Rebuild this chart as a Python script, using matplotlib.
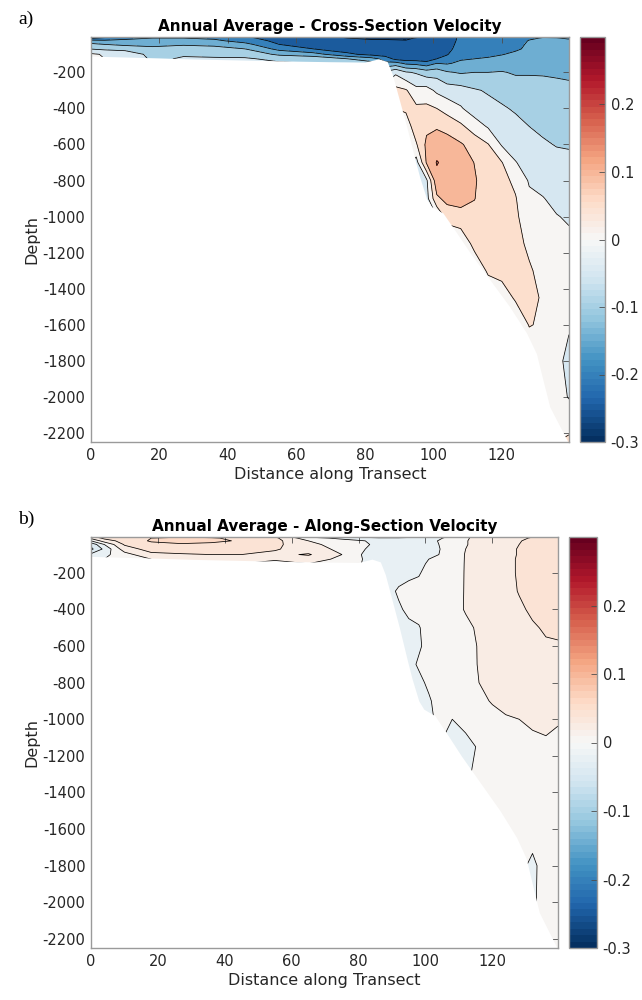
import numpy as np
import matplotlib
matplotlib.use("Agg")
import matplotlib.pyplot as plt
from matplotlib.colors import Normalize
from matplotlib.cm import ScalarMappable

plt.rcParams['axes.unicode_minus'] = False
plt.rcParams['font.family'] = ['DejaVu Sans']

# Section grid: distance along transect (km) and depth levels (m)
distance = [0, 4, 10, 18, 27, 36, 45, 55, 65, 75, 82, 86, 89, 92, 95, 98, 101,
            104, 108, 112, 116, 120, 124, 128, 132, 136, 139.6]
depth = [0, 10, 25, 45, 70, 100, 125, 150, 200, 300, 400, 500, 600, 700, 800,
         900, 1000, 1150, 1300, 1450, 1600, 1800, 2000, 2250]

# Seabed profile along the transect
bathy_x = [0, 10, 20, 30, 40, 50, 60, 70, 80, 84, 86.5, 88, 89.3, 92.2, 94.6,
           96, 98, 99.5, 102.8, 106.8, 110.7, 116.5, 122.3, 127.2, 130.1, 132,
           134, 137, 139.6]
bathy_z = [-110, -115, -120, -126, -130, -134, -138, -141, -143, -125, -140,
           -210, -300, -500, -680, -780, -900, -945, -980, -1090, -1200, -1350,
           -1500, -1645, -1760, -1905, -2055, -2165, -2260]

# Cross-section velocity (m/s), one profile per distance node, surface downward
u_cross = [
    [-0.27, -0.21, -0.13, -0.09, -0.052, 0.008, 0.01],
    [-0.23, -0.19, -0.14, -0.1, -0.06, -0.005, 0.0],
    [-0.17, -0.16, -0.14, -0.11, -0.07, -0.01, -0.005],
    [-0.155, -0.15, -0.135, -0.11, -0.09, -0.07, -0.06],
    [-0.155, -0.15, -0.13, -0.105, -0.08, -0.055, -0.045],
    [-0.165, -0.158, -0.14, -0.11, -0.085, -0.06, -0.045, -0.04],
    [-0.2, -0.19, -0.17, -0.135, -0.1, -0.065, -0.045, -0.04],
    [-0.225, -0.222, -0.215, -0.2, -0.165, -0.11, -0.06, -0.045],
    [-0.245, -0.24, -0.235, -0.222, -0.2, -0.13, -0.065, -0.05],
    [-0.255, -0.25, -0.245, -0.24, -0.225, -0.19, -0.1, -0.07],
    [-0.285, -0.255, -0.245, -0.242, -0.238, -0.215, -0.13, -0.08],
    [-0.285, -0.256, -0.245, -0.24, -0.235, -0.225, -0.17, -0.14, -0.04, 0.03],
    [-0.285, -0.257, -0.246, -0.242, -0.238, -0.232, -0.215, -0.13, -0.01, 0.065, 0.05],
    [-0.28, -0.256, -0.248, -0.245, -0.24, -0.235, -0.225, -0.16, -0.045, 0.055, 0.06, 0.02],
    [-0.26, -0.248, -0.246, -0.244, -0.242, -0.238, -0.225, -0.165, -0.055, 0.015, 0.06,
     0.08, 0.045, -0.02, -0.02],
    [-0.25, -0.247, -0.246, -0.245, -0.243, -0.24, -0.23, -0.18, -0.075, 0.02, 0.06,
     0.09, 0.11, 0.105, -0.01, -0.02, -0.02],
    [-0.245, -0.245, -0.244, -0.243, -0.242, -0.238, -0.2, -0.15, -0.07, -0.01, 0.05,
     0.095, 0.125, 0.153, 0.135, 0.09, 0.0],
    [-0.21, -0.212, -0.213, -0.212, -0.21, -0.203, -0.185, -0.155, -0.095, -0.025, 0.03,
     0.085, 0.12, 0.135, 0.13, 0.115, 0.07, 0.0],
    [-0.195, -0.195, -0.193, -0.19, -0.185, -0.17, -0.155, -0.14, -0.105, -0.03, 0.005,
     0.06, 0.105, 0.12, 0.12, 0.11, 0.09, 0.0],
    [-0.19, -0.19, -0.19, -0.185, -0.18, -0.165, -0.15, -0.135, -0.1, -0.045, -0.025,
     0.025, 0.08, 0.099, 0.104, 0.101, 0.09, 0.07, 0.0],
    [-0.185, -0.185, -0.185, -0.18, -0.175, -0.16, -0.145, -0.13, -0.1, -0.055, -0.035,
     -0.005, 0.052, 0.07, 0.08, 0.082, 0.08, 0.075, 0.06, 0.0],
    [-0.18, -0.18, -0.178, -0.175, -0.17, -0.152, -0.138, -0.125, -0.097, -0.065, -0.045,
     -0.025, -0.005, 0.052, 0.064, 0.066, 0.066, 0.065, 0.063, 0.03],
    [-0.17, -0.17, -0.165, -0.16, -0.156, -0.142, -0.132, -0.12, -0.105, -0.075, -0.055,
     -0.038, -0.02, 0.002, 0.04, 0.053, 0.056, 0.058, 0.057, 0.055, 0.02],
    [-0.16, -0.155, -0.148, -0.145, -0.142, -0.135, -0.128, -0.12, -0.105, -0.075, -0.06,
     -0.05, -0.033, -0.018, -0.005, 0.01, 0.03, 0.045, 0.053, 0.055, 0.052, 0.02],
    [-0.155, -0.148, -0.145, -0.142, -0.138, -0.13, -0.125, -0.118, -0.105, -0.08, -0.068,
     -0.058, -0.045, -0.03, -0.015, 0.002, 0.015, 0.03, 0.042, 0.048, 0.045, 0.03, 0.02],
    [-0.16, -0.148, -0.143, -0.14, -0.136, -0.128, -0.122, -0.117, -0.107, -0.085, -0.073,
     -0.063, -0.052, -0.038, -0.025, -0.012, 0.002, 0.015, 0.025, 0.03, 0.028, 0.008, 0.02, 0.05],
    [-0.17, -0.155, -0.142, -0.138, -0.134, -0.127, -0.12, -0.115, -0.108, -0.09, -0.077,
     -0.066, -0.053, -0.042, -0.03, -0.018, -0.005, 0.01, 0.015, 0.01, 0.003, -0.008, -0.003, 0.06],
]

# Along-section velocity (m/s), same layout
u_along = [
    [0.04, 0.025, 0.0, -0.035, -0.045, -0.015, -0.01],
    [0.05, 0.045, 0.03, 0.0, -0.015, -0.005, 0.0],
    [0.052, 0.05, 0.048, 0.042, 0.03, 0.012, 0.005],
    [0.055, 0.06, 0.062, 0.055, 0.048, 0.035, 0.02],
    [0.055, 0.064, 0.066, 0.058, 0.05, 0.038, 0.025],
    [0.052, 0.062, 0.064, 0.056, 0.05, 0.04, 0.025, 0.02],
    [0.048, 0.055, 0.058, 0.053, 0.048, 0.04, 0.025, 0.02],
    [0.038, 0.044, 0.046, 0.045, 0.042, 0.035, 0.022, 0.015],
    [-0.01, 0.008, 0.02, 0.025, 0.03, 0.042, 0.03, 0.02],
    [-0.025, -0.005, 0.008, 0.012, 0.015, 0.02, 0.015, 0.01],
    [-0.03, -0.015, 0.0, 0.004, 0.0, -0.004, -0.002, -0.002],
    [-0.03, -0.018, -0.012, -0.008, -0.008, -0.01, -0.012, -0.01, -0.008, -0.005],
    [-0.03, -0.018, -0.012, -0.012, -0.01, -0.01, -0.01, -0.01, -0.008, -0.004, -0.003],
    [-0.03, -0.018, -0.012, -0.01, -0.01, -0.01, -0.01, -0.008, -0.006, 0.002, -0.002, -0.003],
    [-0.03, -0.016, -0.01, -0.01, -0.01, -0.01, -0.008, -0.006, -0.003, 0.004, 0.003,
     -0.003, -0.005, -0.005, -0.005],
    [-0.03, -0.015, -0.01, -0.01, -0.009, -0.008, -0.006, -0.004, -0.001, 0.004, 0.005,
     -0.001, -0.002, 0.002, -0.004, -0.004, -0.004],
    [-0.028, -0.012, -0.006, -0.005, -0.004, -0.002, 0.0, 0.002, 0.004, 0.006, 0.007,
     0.006, 0.005, 0.005, 0.003, -0.002, -0.002],
    [-0.022, -0.003, 0.001, 0.0, -0.001, 0.0, 0.003, 0.006, 0.008, 0.01, 0.01,
     0.01, 0.01, 0.009, 0.008, 0.006, 0.002, 0.0],
    [0.005, 0.008, 0.01, 0.01, 0.01, 0.01, 0.011, 0.012, 0.013, 0.014, 0.015,
     0.014, 0.013, 0.012, 0.011, 0.009, 0.0, -0.002],
    [0.018, 0.018, 0.019, 0.019, 0.02, 0.021, 0.021, 0.021, 0.021, 0.021, 0.021,
     0.017, 0.015, 0.014, 0.013, 0.012, 0.006, -0.006, -0.004],
    [0.025, 0.025, 0.025, 0.025, 0.025, 0.025, 0.025, 0.025, 0.024, 0.024, 0.023,
     0.022, 0.021, 0.021, 0.02, 0.017, 0.012, 0.002, 0.006, 0.006],
    [0.03, 0.03, 0.03, 0.03, 0.03, 0.03, 0.03, 0.03, 0.03, 0.03, 0.028,
     0.026, 0.025, 0.024, 0.023, 0.021, 0.016, 0.012, 0.01, 0.008],
    [0.036, 0.036, 0.036, 0.036, 0.036, 0.036, 0.035, 0.035, 0.035, 0.034, 0.032,
     0.03, 0.029, 0.028, 0.026, 0.023, 0.019, 0.014, 0.012, 0.01, 0.009],
    [0.038, 0.038, 0.039, 0.04, 0.041, 0.041, 0.042, 0.042, 0.042, 0.041, 0.037,
     0.034, 0.032, 0.03, 0.028, 0.024, 0.02, 0.015, 0.012, 0.011, 0.01, 0.005],
    [0.039, 0.041, 0.044, 0.046, 0.047, 0.047, 0.047, 0.047, 0.047, 0.046, 0.043,
     0.038, 0.034, 0.031, 0.029, 0.026, 0.022, 0.017, 0.013, 0.011, 0.008, -0.004, -0.002],
    [0.045, 0.048, 0.05, 0.051, 0.052, 0.052, 0.052, 0.052, 0.052, 0.05, 0.047,
     0.042, 0.038, 0.034, 0.03, 0.027, 0.023, 0.018, 0.015, 0.012, 0.01, 0.008, 0.005, 0.004],
    [0.05, 0.052, 0.053, 0.054, 0.055, 0.055, 0.055, 0.055, 0.054, 0.052, 0.049,
     0.044, 0.038, 0.034, 0.03, 0.026, 0.021, 0.017, 0.014, 0.012, 0.01, 0.008, 0.006, 0.005],
]

levels_cross = np.round(np.arange(-6, 7) * 0.05, 3)
levels_along = np.round(np.arange(-5, 6) * 0.02, 3)
cbar_ticks = [-0.3, -0.2, -0.1, 0, 0.1, 0.2]
clim = (-0.3, 0.3)


def section_field(profiles):
    """Stack profiles into (depth, distance); nodes under the seabed repeat the deepest value."""
    cols = []
    for p in profiles:
        p = list(p) + [p[-1]] * (len(depth) - len(p))
        cols.append(p)
    return np.array(cols, dtype=float).T


cmap = plt.get_cmap('RdBu_r', 64)
norm = Normalize(*clim)
X, Z = np.meshgrid(distance, -np.array(depth, dtype=float))

fig = plt.figure(figsize=(6.42, 10), dpi=100)

axis_color = '#4d4d4d'
text_color = '#262626'


def draw_panel(ax_rect, cax_rect, profiles, levels, title, tag, tag_y):
    ax = fig.add_axes(ax_rect)
    U = section_field(profiles)
    band_colors = [cmap(norm(lv)) for lv in levels[:-1]]
    ax.contourf(X, Z, U, levels=levels, colors=band_colors, zorder=1)
    ax.contour(X, Z, U, levels=levels, colors='k', linewidths=0.55,
               linestyles='solid', zorder=2)
    ax.fill_between(bathy_x, bathy_z, -2500, color='white', lw=0, zorder=2.2)
    ax.set_xlim(0, 139.6)
    ax.set_ylim(-2250, -4)
    ax.set_xticks(range(0, 121, 20))
    ax.set_yticks(range(-2200, -199, 200))
    ax.tick_params(direction='in', top=True, right=True, length=4, width=0.6,
                   color=axis_color, labelcolor=text_color, labelsize=10.5, pad=4)
    for s in ax.spines.values():
        s.set_color('#9a9a9a')
        s.set_linewidth(1.0)
    ax.set_xlabel('Distance along Transect', fontsize=11.5, color=text_color, labelpad=3)
    ax.set_ylabel('Depth', fontsize=11.5, color=text_color, labelpad=2)
    ax.set_title(title, fontsize=11, fontweight='bold', color='black', pad=4)
    fig.text(0.028, tag_y, tag, family='Liberation Serif', fontsize=14, color='black')

    cax = fig.add_axes(cax_rect)
    sm = ScalarMappable(norm=norm, cmap=cmap)
    cb = fig.colorbar(sm, cax=cax, ticks=cbar_ticks)
    cb.ax.set_yticklabels(['%g' % t for t in cbar_ticks])
    cb.ax.tick_params(direction='in', length=4, width=0.6, color=axis_color,
                      labelcolor=text_color, labelsize=10.5, pad=4)
    cb.outline.set_edgecolor('#9a9a9a')
    cb.outline.set_linewidth(1.0)
    return ax


draw_panel([0.1417, 0.558, 0.7445, 0.405], [0.9034, 0.558, 0.039, 0.405],
           u_cross, levels_cross, 'Annual Average - Cross-Section Velocity', 'a)', 0.976)
draw_panel([0.1417, 0.052, 0.7274, 0.411], [0.8863, 0.052, 0.0436, 0.411],
           u_along, levels_along, 'Annual Average - Along-Section Velocity', 'b)', 0.476)

fig.savefig('out.png', dpi=100)
